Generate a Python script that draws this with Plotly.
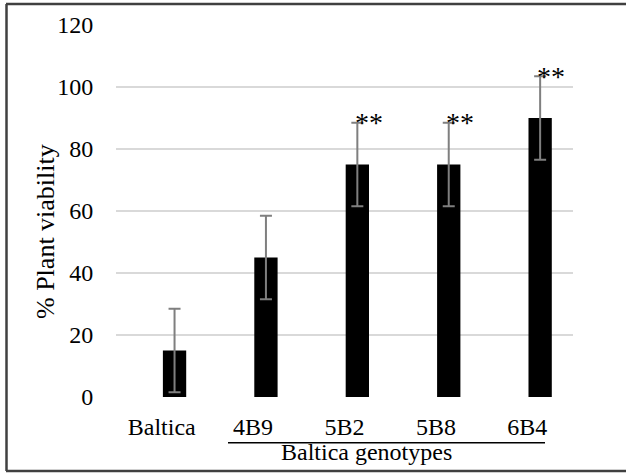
import plotly.graph_objects as go

categories = ["Baltica", "4B9", "5B2", "5B8", "6B4"]
viability = [15, 45, 75, 75, 90]
errors = [13.5, 13.5, 13.5, 13.5, 13.5]
significance = ["", "", "**", "**", "**"]
y_ticks = [0, 20, 40, 60, 80, 100, 120]

W, H = 626, 473
ML, MR, MT, MB = 116, 53, 25, 76
PW, PH = W - ML - MR, H - MT - MB

def px_x(x):
    return (x - ML) / PW

def px_y(y):
    return (H - MB - y) / PH

FONT = "Liberation Serif"

fig = go.Figure()
fig.add_trace(go.Bar(
    x=categories, y=viability,
    width=0.255, offset=0.013,
    marker=dict(color="black", line=dict(width=0)),
    error_y=dict(type="data", array=errors, visible=True,
                 color="#7f7f7f", thickness=2, width=6),
    showlegend=False,
))

for c, v, e, s in zip(categories, viability, errors, significance):
    if s:
        fig.add_annotation(x=c, y=v + e, text=s, showarrow=False,
                           xanchor="left", yanchor="middle", xshift=8, yshift=0,
                           font=dict(family=FONT, size=28, color="black"))

# y-axis title
fig.add_annotation(xref="paper", yref="paper", x=px_x(46), y=px_y(232),
                   text="% Plant viability", textangle=-90, showarrow=False,
                   xanchor="center", yanchor="middle",
                   font=dict(family=FONT, size=26, color="black"))
# group label
fig.add_annotation(xref="paper", yref="paper", x=px_x(366), y=px_y(452),
                   text="Baltica genotypes", showarrow=False,
                   xanchor="center", yanchor="middle",
                   font=dict(family=FONT, size=24, color="black"))
fig.add_shape(type="line", xref="paper", yref="paper",
              x0=px_x(228), x1=px_x(545), y0=px_y(442.7), y1=px_y(442.7),
              line=dict(color="black", width=1.5))
# frame
fig.add_shape(type="line", xref="paper", yref="paper",
              x0=px_x(6), x1=px_x(640), y0=px_y(4), y1=px_y(4),
              line=dict(color="#404040", width=2.5))
fig.add_shape(type="line", xref="paper", yref="paper",
              x0=px_x(6), x1=px_x(640), y0=px_y(471), y1=px_y(471),
              line=dict(color="#404040", width=2.5))
fig.add_shape(type="line", xref="paper", yref="paper",
              x0=px_x(6.5), x1=px_x(6.5), y0=px_y(4), y1=px_y(471),
              line=dict(color="#404040", width=2.5))

fig.update_layout(
    width=W, height=H,
    margin=dict(l=ML, r=MR, t=MT, b=MB),
    paper_bgcolor="white", plot_bgcolor="white",
    font=dict(family=FONT, color="black", size=24),
    xaxis=dict(type="category", range=[-0.5, 4.5], showgrid=False,
               showline=False, zeroline=False,
               ticks="outside", ticklen=8, tickcolor="rgba(0,0,0,0)",
               tickfont=dict(family=FONT, size=24, color="black")),
    yaxis=dict(range=[0, 120], tickvals=y_ticks, showgrid=True,
               gridcolor="#d9d9d9", gridwidth=1.5, zeroline=False,
               showline=False, ticks="outside", ticklen=17,
               tickcolor="rgba(0,0,0,0)",
               tickfont=dict(family=FONT, size=24, color="black")),
)

fig.write_html("out.html")
